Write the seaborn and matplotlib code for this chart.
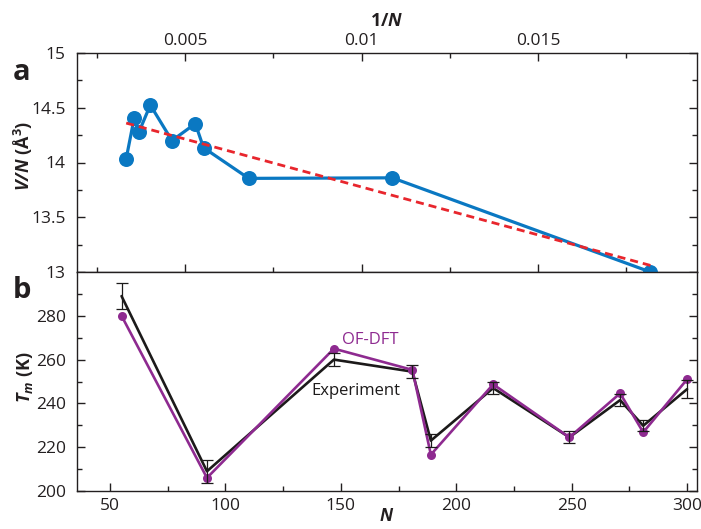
import matplotlib
matplotlib.use("Agg")
import matplotlib.pyplot as plt
from matplotlib.ticker import MultipleLocator, FixedLocator
import numpy as np
import pandas as pd
import seaborn as sns

# ---------------- data ----------------
N_clusters = [55, 92, 147, 181, 189, 216, 249, 271, 281, 300]
volume_per_atom = [13.0, 13.86, 13.855, 14.135, 14.355, 14.20, 14.525, 14.275, 14.405, 14.035]
fit_N = [300, 55]
fit_volume = [14.36, 13.06]

tm_ofdft = [280, 206, 265, 255.3, 216.6, 248.7, 224.5, 244.6, 226.8, 251]
tm_exp = [289, 209, 260, 254.5, 223, 247, 224.5, 241.5, 229.8, 246.5]
tm_exp_err = [6, 5.2, 3, 3, 3, 2.7, 2.8, 2.9, 2.5, 4]

top_xticks = [0.005, 0.01, 0.015]
top_xticklabels = ["0.005", "0.01", "0.015"]
top_yticks = [13, 13.5, 14, 14.5, 15]
top_yticklabels = ["13", "13.5", "14", "14.5", "15"]
bot_xticks = [50, 100, 150, 200, 250, 300]
bot_yticks = [200, 220, 240, 260, 280]

# ---------------- style ----------------
sns.set_style("ticks")
plt.rcParams["font.family"] = ["Open Sans", "DejaVu Sans"]
plt.rcParams["mathtext.fontset"] = "custom"
plt.rcParams["mathtext.rm"] = "Open Sans"
plt.rcParams["mathtext.it"] = "Open Sans:italic"
plt.rcParams["mathtext.bf"] = "Open Sans:bold"
plt.rcParams["mathtext.bfit"] = "Open Sans:italic:bold"
plt.rcParams["axes.linewidth"] = 1.0
plt.rcParams["axes.edgecolor"] = "#231f20"

BLUE = "#0a78c2"
RED = "#e8262d"
PURPLE = "#8e2a90"
BLACK = "#1c1a1a"
TXT = "#231f20"

fig = plt.figure(figsize=(7.01, 5.29), dpi=100)
W, H = 701, 529
ax1 = fig.add_axes([77 / W, 1 - 272 / H, 620 / W, 219 / H])
ax2 = fig.add_axes([77 / W, 1 - 491 / H, 620 / W, 219 / H])

# ---------------- panel a ----------------
df_a = pd.DataFrame({"invN": 1.0 / np.array(N_clusters), "VN": volume_per_atom})
df_fit = pd.DataFrame({"invN": 1.0 / np.array(fit_N), "VN": fit_volume})

sns.lineplot(data=df_a, x="invN", y="VN", ax=ax1, color=BLUE, linewidth=2.3,
             marker="o", markersize=10.8, markeredgewidth=0, markeredgecolor=BLUE,
             zorder=3, clip_on=False)
sns.lineplot(data=df_fit, x="invN", y="VN", ax=ax1, color=RED, linewidth=2.0,
             linestyle=(0, (2.9, 1.8)), zorder=4)

ax1.set_xlim(0.00194, 0.0195)
ax1.set_ylim(13, 15)
ax1.xaxis.set_major_locator(FixedLocator(top_xticks))
ax1.set_xticklabels(top_xticklabels)
ax1.xaxis.set_minor_locator(MultipleLocator(0.0025))
ax1.yaxis.set_major_locator(FixedLocator(top_yticks))
ax1.set_yticklabels(top_yticklabels)
ax1.yaxis.set_minor_locator(MultipleLocator(0.25))
ax1.tick_params(axis="x", which="both", direction="in", top=True, bottom=True,
                labeltop=True, labelbottom=False, colors=TXT, labelsize=12.5, pad=3)
ax1.tick_params(axis="y", which="both", direction="in", left=True, right=True,
                labelleft=True, colors=TXT, labelsize=12.5, pad=8)
ax1.tick_params(which="major", length=6, width=1)
ax1.tick_params(which="minor", length=3.5, width=1)
ax1.xaxis.set_label_position("top")
ax1.set_xlabel(r"1/$\mathbfit{N}$", fontsize=13, fontweight="bold", color=TXT, labelpad=5)
ax1.set_ylabel(r"$\mathbfit{V/N}$ (Å$^{\mathbf{3}}$)", fontsize=13, fontweight="bold", color=TXT)
ax1.yaxis.set_label_coords(-0.068, 0.53)

# ---------------- panel b ----------------
df_b = pd.DataFrame({"N": N_clusters, "ofdft": tm_ofdft, "exp": tm_exp})

sns.lineplot(data=df_b, x="N", y="exp", ax=ax2, color=BLACK, linewidth=1.9, zorder=3)
sns.lineplot(data=df_b, x="N", y="ofdft", ax=ax2, color=PURPLE, linewidth=1.9,
             marker="o", markersize=6.5, markeredgewidth=0, markeredgecolor=PURPLE,
             zorder=4)
ax2.errorbar(N_clusters, tm_exp, yerr=tm_exp_err, fmt="none", ecolor=BLACK,
             elinewidth=0.9, capsize=4.3, capthick=0.9, zorder=5)

ax2.text(150.3, 269.1, "OF-DFT", color=PURPLE, fontsize=12, ha="left", va="center")
ax2.text(137.3, 245.6, "Experiment", color=BLACK, fontsize=12, ha="left", va="center")

ax2.set_xlim(35.7, 304.3)
ax2.set_ylim(200, 300)
ax2.xaxis.set_major_locator(FixedLocator(bot_xticks))
ax2.xaxis.set_minor_locator(MultipleLocator(25))
ax2.yaxis.set_major_locator(FixedLocator(bot_yticks))
ax2.yaxis.set_minor_locator(FixedLocator([210, 230, 250, 270, 290]))
ax2.tick_params(axis="x", which="both", direction="in", top=False, bottom=True,
                colors=TXT, labelsize=12.5, pad=5)
ax2.tick_params(axis="y", which="both", direction="in", left=True, right=True,
                labelleft=True, colors=TXT, labelsize=12.5, pad=8)
ax2.tick_params(which="major", length=6, width=1)
ax2.tick_params(which="minor", length=3.5, width=1)
ax2.set_xlabel(r"$\mathbfit{N}$", fontsize=12.5, color=TXT, labelpad=-4)
ax2.set_ylabel(r"$\mathbfit{T}_{\mathbfit{m}}$ (K)", fontsize=13, fontweight="bold", color=TXT)
ax2.yaxis.set_label_coords(-0.068, 0.52)

for ax in (ax1, ax2):
    for sp in ax.spines.values():
        sp.set_visible(True)
        sp.set_linewidth(1.0)
        sp.set_color(TXT)

# panel letters
fig.text(13 / W, 1 - 80 / H, "a", fontsize=21, fontweight="bold", color=TXT,
         ha="left", va="baseline")
fig.text(13 / W, 1 - 298 / H, "b", fontsize=21, fontweight="bold", color=TXT,
         ha="left", va="baseline")

fig.savefig("out.png", dpi=100)
